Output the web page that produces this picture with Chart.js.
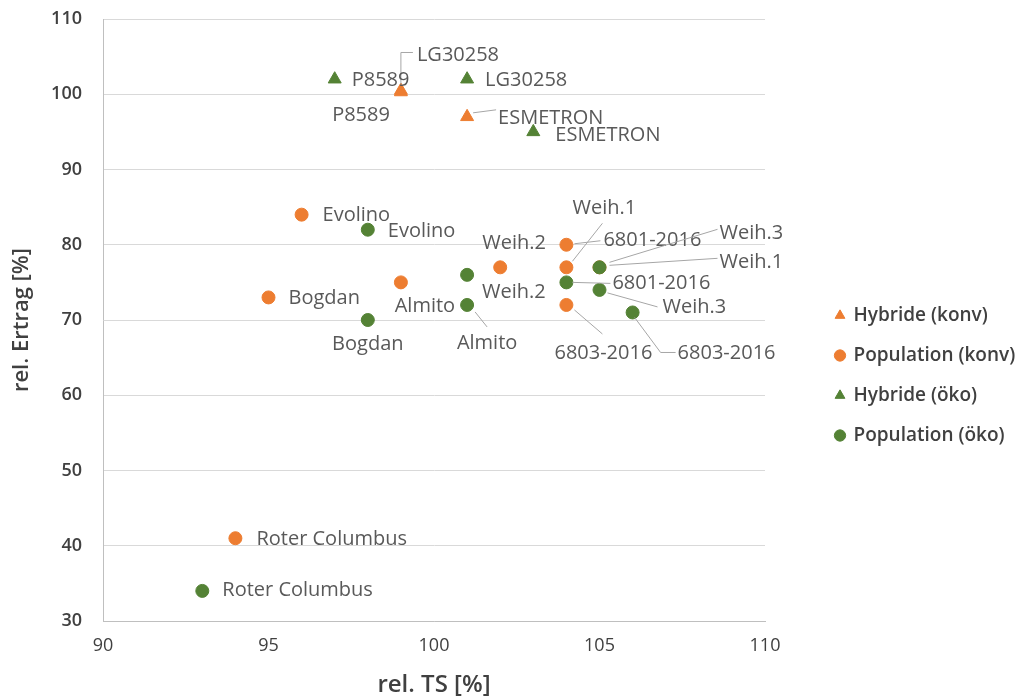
<!DOCTYPE html>
<html>
<head>
<meta charset="utf-8">
<script src="https://cdn.jsdelivr.net/npm/chart.js@4"></script>
<style>
  html, body { margin: 0; padding: 0; background: #fff; }
  #wrap { width: 1019px; height: 700px; }
</style>
</head>
<body>
<div id="wrap"><canvas id="scatterChart" width="1019" height="700"></canvas></div>
<script>
// rel. TS [%] (x) and rel. Ertrag [%] (y) per Sorte
const tsHybKonv = [99, 99, 101];
const ertragHybKonv = [100.5, 100.3, 97];
const namesHybKonv = ['LG30258', 'P8589', 'ESMETRON'];

const tsPopKonv = [96, 95, 99, 102, 104, 104, 104, 105, 94];
const ertragPopKonv = [84, 73, 75, 77, 80, 77, 72, 77, 41];
const namesPopKonv = ['Evolino', 'Bogdan', 'Almito', 'Weih.2', '6801-2016', 'Weih.1', '6803-2016', 'Weih.3', 'Roter Columbus'];

const tsHybOeko = [97, 101, 103];
const ertragHybOeko = [102, 102, 95];
const namesHybOeko = ['P8589', 'LG30258', 'ESMETRON'];

const tsPopOeko = [98, 98, 101, 101, 104, 105, 105, 106, 93];
const ertragPopOeko = [82, 70, 76, 72, 75, 77, 74, 71, 34];
const namesPopOeko = ['Evolino', 'Bogdan', 'Weih.2', 'Almito', '6801-2016', 'Weih.1', 'Weih.3', '6803-2016', 'Roter Columbus'];

const xTicks = [90, 95, 100, 105, 110];
const yTicks = [30, 40, 50, 60, 70, 80, 90, 100, 110];

const ORANGE = '#ED7D31';
const GREEN = '#548235';

// where each data label sits relative to its point (px), plus leader lines
const labelPlacement = [
    [
        { dx: 16, dy: -35, leader: [[0, -6], [0, -38], [12, -38]] },
        { dx: -11, dy: 23, align: 'right' },
        { dx: 31, dy: 1, leader: [[6, -4], [29, -7]] }
    ],
    [
        { dx: 21, dy: 1 },
        { dx: 20, dy: 1 },
        { dx: 24, dy: 24, align: 'center' },
        { dx: 14, dy: -24, align: 'center' },
        { dx: 37, dy: -4, leader: [[8, -1], [34, -4]] },
        { dx: 38, dy: -59, align: 'center', leader: [[6, -6], [36, -44]] },
        { dx: 37, dy: 48, align: 'center', leader: [[8, 5], [36, 29]] },
        { dx: 120, dy: -34, leader: [[10, -5], [118, -38]] },
        { dx: 21, dy: 1 }
    ],
    [
        { dx: 17, dy: 1 },
        { dx: 18, dy: 1 },
        { dx: 22, dy: 3 }
    ],
    [
        { dx: 20, dy: 2 },
        { dx: 0, dy: 24, align: 'center' },
        { dx: 15, dy: 17 },
        { dx: 20, dy: 38, align: 'center', leader: [[8, 7], [20, 22]] },
        { dx: 46, dy: 1, leader: [[6, 0], [44, 1]] },
        { dx: 120, dy: -5, leader: [[10, -2], [118, -9]] },
        { dx: 63, dy: 17, leader: [[8, 3], [58, 17]] },
        { dx: 45, dy: 41, leader: [[2, 5], [28, 40], [43, 40]] },
        { dx: 20, dy: -1 }
    ]
];

function toPoints(xs, ys) {
    return xs.map((x, i) => ({ x: x, y: ys[i] }));
}

const pointLabels = {
    id: 'pointLabels',
    afterDatasetsDraw(chart) {
        const ctx = chart.ctx;
        ctx.save();
        ctx.font = '20px "Open Sans"';
        ctx.textBaseline = 'middle';
        chart.data.datasets.forEach((ds, di) => {
            chart.getDatasetMeta(di).data.forEach((pt, i) => {
                const p = labelPlacement[di][i];
                if (p.leader) {
                    ctx.strokeStyle = '#a6a6a6';
                    ctx.lineWidth = 1;
                    ctx.beginPath();
                    p.leader.forEach(([lx, ly], k) => {
                        if (k === 0) ctx.moveTo(pt.x + lx, pt.y + ly);
                        else ctx.lineTo(pt.x + lx, pt.y + ly);
                    });
                    ctx.stroke();
                }
                ctx.fillStyle = '#595959';
                ctx.textAlign = p.align || 'left';
                ctx.fillText(ds.names[i], pt.x + p.dx, pt.y + p.dy);
            });
        });
        ctx.restore();
    }
};

// legend sits in its own column to the right, lower than the plot middle
const legendPlace = {
    id: 'legendPlace',
    beforeInit(chart) {
        const lg = chart.legend;
        const fit = lg.fit.bind(lg);
        lg.fit = function () {
            fit();
            this.width = 254;
        };
    },
    beforeDraw(chart) {
        const lg = chart.legend;
        lg.left = 815;
        lg.right = 1019;
        lg.top = 285;
        lg.bottom = 520;
    }
};

Chart.defaults.font.family = '"Open Sans", sans-serif';

const ctx = document.getElementById('scatterChart').getContext('2d');

new Chart(ctx, {
    type: 'scatter',
    data: {
        datasets: [
            {
                label: 'Hybride (konv)',
                data: toPoints(tsHybKonv, ertragHybKonv),
                names: namesHybKonv,
                pointStyle: 'triangle',
                pointRadius: 7.5,
                backgroundColor: ORANGE,
                borderColor: ORANGE,
                borderWidth: 1,
                order: 3
            },
            {
                label: 'Population (konv)',
                data: toPoints(tsPopKonv, ertragPopKonv),
                names: namesPopKonv,
                pointStyle: 'circle',
                pointRadius: 6.5,
                backgroundColor: ORANGE,
                borderColor: ORANGE,
                borderWidth: 1,
                order: 2
            },
            {
                label: 'Hybride (öko)',
                data: toPoints(tsHybOeko, ertragHybOeko),
                names: namesHybOeko,
                pointStyle: 'triangle',
                pointRadius: 7.5,
                backgroundColor: GREEN,
                borderColor: GREEN,
                borderWidth: 1,
                order: 1
            },
            {
                label: 'Population (öko)',
                data: toPoints(tsPopOeko, ertragPopOeko),
                names: namesPopOeko,
                pointStyle: 'circle',
                pointRadius: 6.5,
                backgroundColor: GREEN,
                borderColor: GREEN,
                borderWidth: 1,
                order: 0
            }
        ]
    },
    options: {
        responsive: false,
        animation: false,
        layout: {
            padding: { top: 19, left: 0, right: 0, bottom: 0 }
        },
        scales: {
            x: {
                type: 'linear',
                min: xTicks[0],
                max: xTicks[xTicks.length - 1],
                afterBuildTicks: (scale) => { scale.ticks = xTicks.map(v => ({ value: v })); },
                afterFit: (scale) => {
                    scale.height = 79;
                    scale.paddingLeft = 0;
                    scale.paddingRight = 0;
                },
                grid: { display: false, drawTicks: false },
                border: { display: true, color: '#bfbfbf', width: 1 },
                ticks: {
                    padding: 14,
                    color: '#404040',
                    font: { size: 18 }
                },
                title: {
                    display: true,
                    text: 'rel. TS [%]',
                    color: '#404040',
                    font: { size: 24, weight: '600' },
                    padding: { top: 0, bottom: 0 }
                }
            },
            y: {
                type: 'linear',
                min: yTicks[0],
                max: yTicks[yTicks.length - 1],
                afterBuildTicks: (scale) => { scale.ticks = yTicks.map(v => ({ value: v })); },
                afterFit: (scale) => {
                    scale.width = 103;
                    scale.paddingTop = 0;
                    scale.paddingBottom = 0;
                },
                grid: { color: '#d9d9d9', drawTicks: false },
                border: { display: true, color: '#bfbfbf', width: 1 },
                ticks: {
                    padding: 21,
                    color: '#404040',
                    font: { size: 18, weight: '600' }
                },
                title: {
                    display: true,
                    text: 'rel. Ertrag [%]',
                    color: '#404040',
                    font: { size: 22, weight: '600' },
                    padding: { top: 9, bottom: 0 }
                }
            }
        },
        plugins: {
            legend: {
                display: true,
                position: 'right',
                align: 'start',
                labels: {
                    usePointStyle: true,
                    boxWidth: 8,
                    boxHeight: 8,
                    padding: 21,
                    color: '#404040',
                    font: { size: 19, weight: '600' },
                    sort: (a, b) => a.datasetIndex - b.datasetIndex
                }
            },
            tooltip: { enabled: false }
        }
    },
    plugins: [pointLabels, legendPlace]
});
</script>
</body>
</html>
